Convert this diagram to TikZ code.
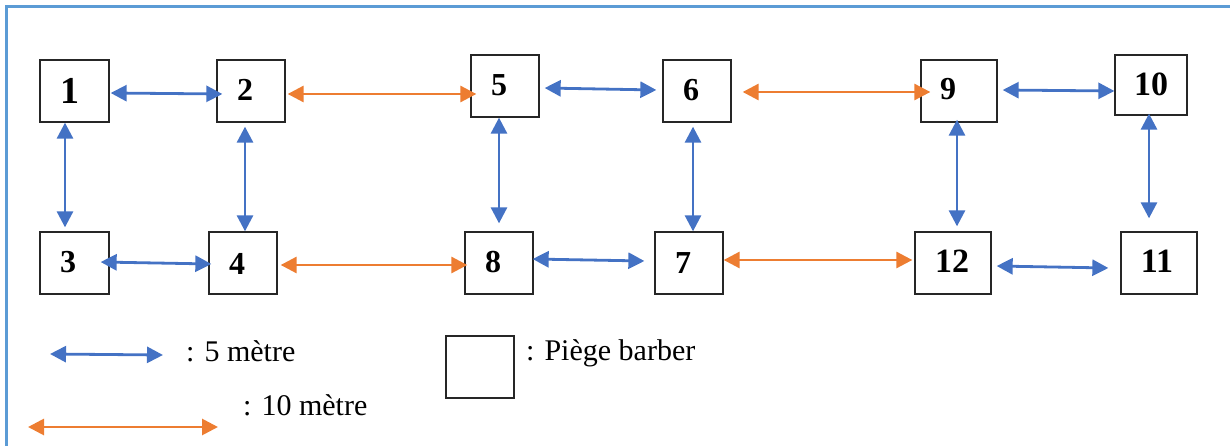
\documentclass[tikz,border=0pt]{standalone}
\usepackage{fontspec}
\setmainfont{Liberation Serif}
\usetikzlibrary{arrows.meta}
\definecolor{frameblue}{HTML}{5B9BD5}
\definecolor{arrblue}{HTML}{4472C4}
\definecolor{arrorange}{HTML}{ED7D31}
\begin{document}
\begin{tikzpicture}[x=1pt,y=-1pt,
  trap/.style={draw=black!85, line width=1.3pt, minimum width=68pt, minimum height=62pt, inner sep=0pt},
  num/.style={font=\fontsize{32}{36}\selectfont\bfseries, inner sep=0pt},
  bignum/.style={font=\fontsize{34}{38}\selectfont\bfseries, inner sep=0pt},
  five/.style={draw=arrblue, line width=2.8pt, {Triangle[length=16pt 0 0,width=16pt 0 0]}-{Triangle[length=16pt 0 0,width=16pt 0 0]}},
  ten/.style={draw=arrorange, line width=2.8pt, {Triangle[length=16pt 0 0,width=16pt 0 0]}-{Triangle[length=16pt 0 0,width=16pt 0 0]}},
  legendtext/.style={font=\fontsize{30}{34}\selectfont, inner sep=0pt, anchor=base west}]
\useasboundingbox (0,0) rectangle (1230,446);
% frame
\draw[frameblue, line width=2.6pt] (6.5,446) -- (6.5,6.5) -- (1232,6.5);
% traps
\node[trap, minimum width=69pt] (b1) at (74.5,91) {};
\node[trap] (b2) at (251,91) {};
\node[trap, minimum width=69pt] (b3) at (74.5,263) {};
\node[trap] (b4) at (243,263) {};
\node[trap] (b5) at (505,86) {};
\node[trap] (b6) at (697,91) {};
\node[trap] (b8) at (499,263) {};
\node[trap] (b7) at (689,263) {};
\node[trap, minimum width=76pt] (b9) at (959,91) {};
\node[trap, minimum width=72pt, minimum height=60pt] (b10) at (1151,85) {};
\node[trap, minimum width=76pt] (b12) at (953,263) {};
\node[trap, minimum width=76pt] (b11) at (1159,263) {};
% labels
\node[num, font=\fontsize{38}{42}\selectfont\bfseries] (l1) at (70,91) {1};
\node[num] (l2) at (245,90) {2};
\node[num] (l3) at (68,262) {3};
\node[num] (l4) at (237,264) {4};
\node[num] (l5) at (499,85) {5};
\node[num] (l6) at (691,90) {6};
\node[num] (l8) at (493,262) {8};
\node[num] (l7) at (683,263) {7};
\node[num] (l9) at (948,89) {9};
\node[bignum] (l10) at (1151,84) {10};
\node[bignum] (l12) at (952,261) {12};
\node[bignum] (l11) at (1157,261) {11};
% horizontal connectors, top row
\draw[five] ([shift={(1,2)}]b1.east) -- ([shift={(6,3)}]b2.west);
\draw[ten]  ([shift={(2,3)}]b2.east) -- ([shift={(6,8)}]b5.west);
\draw[five] ([shift={(5,2)}]b5.east) -- ([shift={(-6,-1)}]b6.west);
\draw[ten]  ([shift={(11,1)}]b6.east) -- ([shift={(10,1)}]b9.west);
\draw[five] ([shift={(5,-1)}]b9.east) -- ([shift={(0,6)}]b10.west);
% horizontal connectors, bottom row
\draw[five] ([shift={(-9,-1)}]b3.east) -- ([shift={(3,1)}]b4.west);
\draw[ten]  ([shift={(3,2)}]b4.east) -- ([shift={(3,2)}]b8.west);
\draw[five] ([shift={(-1,-4)}]b8.east) -- ([shift={(-10,-2)}]b7.west);
\draw[ten]  ([shift={(0,-3)}]b7.east) -- ([shift={(-2,-3)}]b12.west);
\draw[five] ([shift={(5,3)}]b12.east) -- ([shift={(-12,5)}]b11.west);
% vertical connectors
\draw[five] ([shift={(-9.5,0)}]b1.south) -- ([shift={(-9.5,-4)}]b3.north);
\draw[five] ([shift={(-6,4)}]b2.south) -- ([shift={(2,0)}]b4.north);
\draw[five] ([shift={(-6,0)}]b5.south) -- ([shift={(0,-8)}]b8.north);
\draw[five] ([shift={(-4,4)}]b6.south) -- ([shift={(4,0)}]b7.north);
\draw[five] ([shift={(-2,-3)}]b9.south) -- ([shift={(4,-5)}]b12.north);
\draw[five] ([shift={(-2,-2)}]b10.south) -- ([shift={(-10,-13)}]b11.north);
% legend
\coordinate (f1) at (50,354);
\coordinate (f2) at (163,355);
\coordinate (t1) at (28,427);
\coordinate (t2) at (218,427);
\draw[five] (f1) -- (f2);
\draw[ten] (t1) -- (t2);
\node[legendtext] (lf) at (186,361) {: 5 mètre};
\node[legendtext] (lt) at (243,415) {: 10 mètre};
\node[trap] (lb) at (480,367) {};
\node[legendtext] (lp) at (526,360) {: Piège barber};
\end{tikzpicture}
\end{document}
